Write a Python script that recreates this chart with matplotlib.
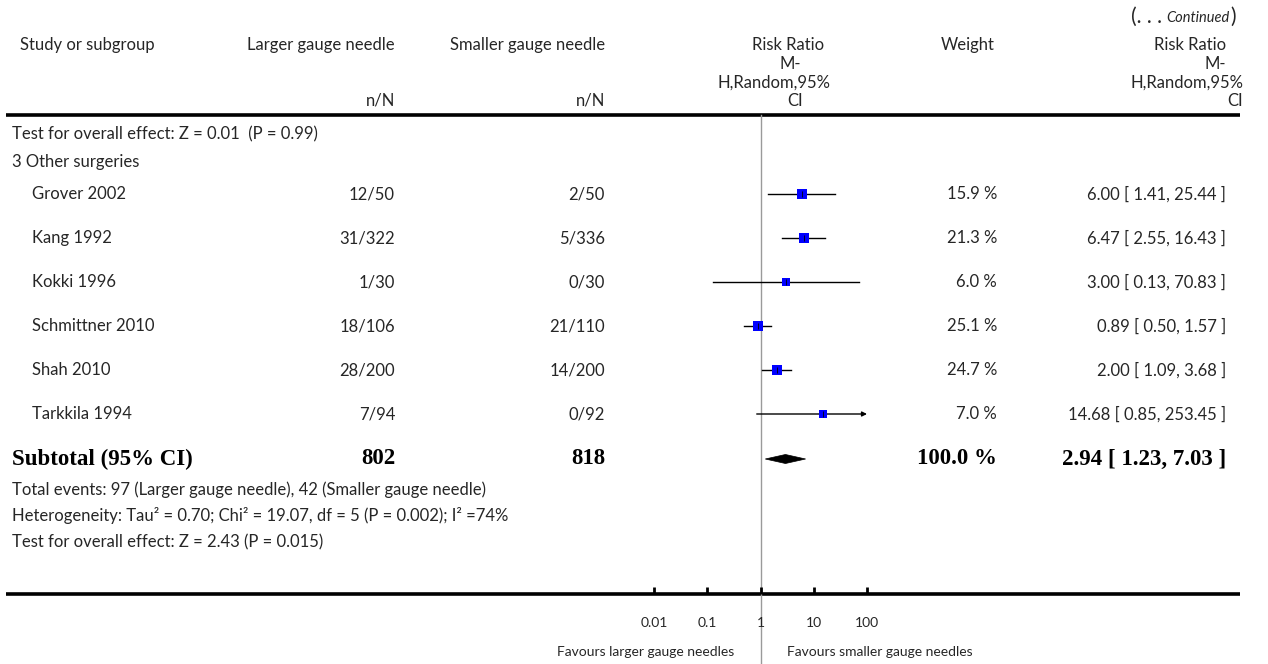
import numpy as np
import matplotlib
matplotlib.use("Agg")
import matplotlib.pyplot as plt
from matplotlib.patches import Polygon

plt.rcParams['font.family'] = ['Lato', 'DejaVu Sans']

# study-level data, subgroup 3 (other surgeries)
studies = ['Grover 2002', 'Kang 1992', 'Kokki 1996', 'Schmittner 2010', 'Shah 2010', 'Tarkkila 1994']
larger_nN = ['12/50', '31/322', '1/30', '18/106', '28/200', '7/94']
smaller_nN = ['2/50', '5/336', '0/30', '21/110', '14/200', '0/92']
rr = [6.00, 6.47, 3.00, 0.89, 2.00, 14.68]
ci_low = [1.41, 2.55, 0.13, 0.50, 1.09, 0.85]
ci_high = [25.44, 16.43, 70.83, 1.57, 3.68, 253.45]
weights = [15.9, 21.3, 6.0, 25.1, 24.7, 7.0]

subtotal_n = (802, 818)
subtotal_rr, subtotal_lo, subtotal_hi = 2.94, 1.23, 7.03
subtotal_weight = 100.0

axis_ticks = [0.01, 0.1, 1, 10, 100]
axis_ticklabels = ['0.01', '0.1', '1', '10', '100']

TXT = '#262626'
W, H = 1268, 664
fig = plt.figure(figsize=(W / 100, H / 100), dpi=100)

# overlay axes in pixel units for the table text
tab = fig.add_axes([0, 0, 1, 1])
tab.set_xlim(0, W)
tab.set_ylim(H, 0)
tab.axis('off')

# forest panel: log scale from 0.01 to 100
x0, x1 = 654, 867
fp = fig.add_axes([x0 / W, 0, (x1 - x0) / W, 1])
fp.set_xscale('log')
fp.set_xlim(0.01, 100)
fp.set_ylim(H, 0)
fp.axis('off')
fp.patch.set_alpha(0)

fs = 12
col_l, col_s, col_w, col_rr = 395, 605, 997, 1226
rule_end = 1240

def txt(x, y, s, ha='left', **kw):
    kw.setdefault('fontsize', fs)
    kw.setdefault('color', TXT)
    return tab.text(x, y, s, ha=ha, va='center', **kw)

# "(... Continued)" built from pieces so only the word is italic
renderer = fig.canvas.get_renderer()
px_per_unit = fig.bbox.width / W
t1 = txt(rule_end - 4, 17, ')', ha='right', fontsize=15)
w1 = t1.get_window_extent(renderer).width / px_per_unit
t2 = txt(rule_end - 4 - w1 - 1, 18, 'Continued', ha='right', fontsize=10.5, style='italic')
w2 = t2.get_window_extent(renderer).width / px_per_unit
txt(rule_end - 4 - w1 - w2 - 5, 17, '(. . .', ha='right', fontsize=15)

# header
txt(20, 45, 'Study or subgroup')
txt(col_l, 45, 'Larger gauge needle', ha='right')
txt(col_s, 45, 'Smaller gauge needle', ha='right')
txt(col_l, 101, 'n/N', ha='right')
txt(col_s, 101, 'n/N', ha='right')
txt(968, 45, 'Weight', ha='center')
hdr_lines = ['Risk Ratio', 'M-', 'H,Random,95%', 'CI']
hdr_y = [45, 64, 83, 101]
for dy, line, xc in zip(hdr_y, hdr_lines, [788, 790, 774, 795]):
    txt(xc, dy, line, ha='center')
for dy, line, xr in zip(hdr_y, hdr_lines, [col_rr, col_rr, col_rr + 17, col_rr + 17]):
    txt(xr, dy, line, ha='right')

tab.plot([6, rule_end], [115, 115], color='black', lw=2.6, solid_capstyle='butt')

txt(12, 134, 'Test for overall effect: Z = 0.01  (P = 0.99)')
txt(12, 162, '3 Other surgeries')

# reference line at RR = 1
fp.plot([1, 1], [115, H], color='#9a9a9a', lw=1.0, clip_on=False)

row0, step = 194, 44
for i, name in enumerate(studies):
    y = row0 + i * step
    txt(32, y, name)
    txt(col_l, y, larger_nN[i], ha='right')
    txt(col_s, y, smaller_nN[i], ha='right')
    txt(col_w, y, f'{weights[i]:.1f} %', ha='right')
    txt(col_rr, y, f'{rr[i]:.2f} [ {ci_low[i]:.2f}, {ci_high[i]:.2f} ]', ha='right')
    hi = min(ci_high[i], 100)
    if ci_high[i] > 100:
        fp.annotate('', xy=(hi, y), xytext=(ci_low[i], y),
                    arrowprops=dict(arrowstyle='-|>', color='black', lw=1.0,
                                    mutation_scale=7, shrinkA=0, shrinkB=0),
                    annotation_clip=False)
    else:
        fp.plot([ci_low[i], hi], [y, y], color='black', lw=1.0, clip_on=False)
    side = 3.4 + 0.8 * np.sqrt(weights[i])
    fp.scatter([rr[i]], [y], marker='s', s=side ** 2, color='#0000ff', linewidths=0,
               zorder=3, clip_on=False)
    fp.scatter([rr[i]], [y], marker='|', s=16, color='black', linewidths=0.6,
               zorder=4, clip_on=False)

# subtotal row
ys = 459
serif = dict(family='Liberation Serif', weight='bold', fontsize=16.5, color='black')
txt(12, ys, 'Subtotal (95% CI)', **serif)
txt(col_l, ys, str(subtotal_n[0]), ha='right', **serif)
txt(col_s, ys, str(subtotal_n[1]), ha='right', **serif)
txt(col_w, ys, f'{subtotal_weight:.1f} %', ha='right', **serif)
txt(col_rr, ys, f'{subtotal_rr:.2f} [ {subtotal_lo:.2f}, {subtotal_hi:.2f} ]', ha='right', **serif)
dh = 4.5
fp.add_patch(Polygon([(subtotal_lo, ys), (subtotal_rr, ys - dh), (subtotal_hi, ys), (subtotal_rr, ys + dh)],
                     closed=True, facecolor='black', edgecolor='black', lw=0.5, clip_on=False))

txt(12, 490, 'Total events: 97 (Larger gauge needle), 42 (Smaller gauge needle)')
txt(12, 516, 'Heterogeneity: Tau\u00b2 = 0.70; Chi\u00b2 = 19.07, df = 5 (P = 0.002); I\u00b2 =74%')
txt(12, 542, 'Test for overall effect: Z = 2.43 (P = 0.015)')

# bottom axis
tab.plot([6, rule_end], [594, 594], color='black', lw=2.6, solid_capstyle='butt')
for t, lab in zip(axis_ticks, axis_ticklabels):
    fp.plot([t, t], [594, 587], color='black', lw=2.0, clip_on=False, solid_capstyle='butt')
    fp.text(t, 623, lab, ha='center', va='center', fontsize=10, color=TXT, clip_on=False)

fp.annotate('Favours larger gauge needles', xy=(1, 652), xytext=(-19, 0), textcoords='offset points',
            ha='right', va='center', fontsize=10, color=TXT, annotation_clip=False)
fp.annotate('Favours smaller gauge needles', xy=(1, 652), xytext=(19, 0), textcoords='offset points',
            ha='left', va='center', fontsize=10, color=TXT, annotation_clip=False)

fig.savefig('out.png', dpi=100)
